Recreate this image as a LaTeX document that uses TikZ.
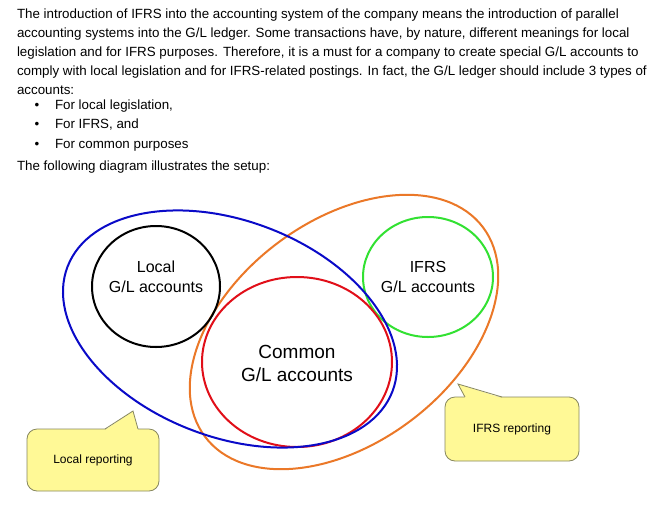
\documentclass[tikz,border=0pt]{standalone}
\usepackage{fontspec}
\setmainfont{Liberation Sans}
\usetikzlibrary{shapes.geometric}
\definecolor{setblue}{RGB}{10,10,200}
\definecolor{setred}{RGB}{225,15,25}
\definecolor{setgreen}{RGB}{50,225,50}
\definecolor{setorange}{RGB}{235,120,40}
\definecolor{notefill}{RGB}{255,249,150}
\definecolor{notedraw}{RGB}{135,135,95}
\begin{document}
\begin{tikzpicture}[
    x=1pt, y=1pt,
    every node/.style={inner sep=0pt, outer sep=0pt},
    para/.style={anchor=base west, font=\fontsize{13.35}{19}\selectfont},
    set/.style={ellipse, line width=2pt},
    caption/.style={align=center, font=\fontsize{16}{19.5}\selectfont},
    note/.style={rectangle, rounded corners=10pt, draw=notedraw, fill=notefill, line width=0.8pt, font=\fontsize{12}{14}\selectfont}
  ]
  \fill[white] (0,0) rectangle (672,-509);
  \useasboundingbox (0,0) rectangle (672,-509);

  % text above the diagram
  \node[para] (line1) at (17,-18) {The introduction of IFRS into the accounting system of the company means the introduction of parallel};
  \node[para] (line2) at (17,-37) {accounting systems into the G/L ledger. Some transactions have, by nature, different meanings for local};
  \node[para] (line3) at (17,-56) {legislation and for IFRS purposes. Therefore, it is a must for a company to create special G/L accounts to};
  \node[para] (line4) at (17,-75) {comply with local legislation and for IFRS-related postings. In fact, the G/L ledger should include 3 types of};
  \node[para] (line5) at (17,-94) {accounts:};
  \node[para, anchor=base] (bullet1) at (37,-109.5) {\textbullet};
  \node[para] (item1) at (55,-109.5) {For local legislation,};
  \node[para, anchor=base] (bullet2) at (37,-128.5) {\textbullet};
  \node[para] (item2) at (55,-128.5) {For IFRS, and};
  \node[para, anchor=base] (bullet3) at (37,-148.5) {\textbullet};
  \node[para] (item3) at (55,-148.5) {For common purposes};
  \node[para] (line6) at (17,-170.5) {The following diagram illustrates the setup:};

  % account sets
  \node[set, draw=setorange, rotate=37, minimum width=348pt, minimum height=222pt] (ifrsset) at (344,-332) {};
  \node[set, draw=black, minimum width=128pt, minimum height=121pt] (local) at (156,-286.5) {};
  \node[set, draw=setgreen, minimum width=130pt, minimum height=120pt] (ifrs) at (428,-277) {};
  \node[set, draw=setred, minimum width=190pt, minimum height=170pt] (common) at (297,-362) {};
  \node[set, draw=setblue, rotate=-21, minimum width=348pt, minimum height=216pt] (localset) at (230,-329) {};

  \node[caption] (localtext) at ([yshift=9.5pt]local.center) {Local\\G/L accounts};
  \node[caption] (ifrstext) at (ifrs.center) {IFRS\\G/L accounts};
  \node[caption, font=\fontsize{19}{23}\selectfont] (commontext) at ([yshift=-1.5pt]common.center) {Common\\G/L accounts};

  % callouts
  \node[note, minimum width=132pt, minimum height=62pt] (localnote) at (93,-460) {Local reporting};
  \coordinate (localtip) at (133,-411);
  \fill[notefill] ([shift={(12pt,-1pt)}]localnote.north) -- (localtip) -- ([shift={(45pt,-1pt)}]localnote.north) -- cycle;
  \draw[notedraw, line width=0.8pt] ([xshift=12pt]localnote.north) -- (localtip) -- ([xshift=45pt]localnote.north);

  \node[note, minimum width=134pt, minimum height=64pt] (ifrsnote) at (512,-429) {IFRS reporting};
  \coordinate (ifrstip) at (458,-384);
  \fill[notefill] ([shift={(-47pt,-1pt)}]ifrsnote.north) -- (ifrstip) -- ([shift={(-10pt,-1pt)}]ifrsnote.north) -- cycle;
  \draw[notedraw, line width=0.8pt] ([xshift=-47pt]ifrsnote.north) -- (ifrstip) -- ([xshift=-10pt]ifrsnote.north);
\end{tikzpicture}
\end{document}
